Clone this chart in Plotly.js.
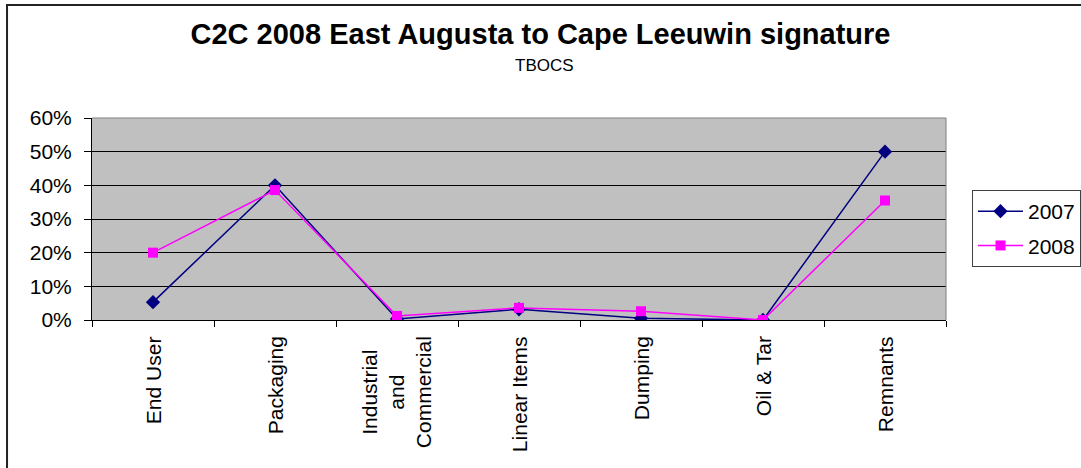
<!DOCTYPE html>
<html>
<head>
<meta charset="utf-8">
<script src="https://cdn.plot.ly/plotly-3.0.1.min.js"></script>
<style>
html,body{margin:0;padding:0;background:#fff;}
#chart{width:1081px;height:468px;}
</style>
</head>
<body>
<div id="chart"></div>
<script>
const categories = ['End User', 'Packaging', 'Industrial<br>and<br>Commercial', 'Linear Items', 'Dumping', 'Oil & Tar', 'Remnants'];
const values2007 = [0.053, 0.40, 0.003, 0.032, 0.005, 0.0, 0.50];
const values2008 = [0.20, 0.386, 0.012, 0.036, 0.026, 0.0, 0.355];
const seriesNames = ['2007', '2008'];
const yTicks = [0, 0.1, 0.2, 0.3, 0.4, 0.5, 0.6];

const FONT = 'Liberation Sans, Arial, sans-serif';

const traces = [
  {
    x: categories, y: values2007, name: seriesNames[0], type: 'scatter', mode: 'lines+markers',
    legendgroup: 'a',
    line: {color: '#000080', width: 1.5},
    marker: {symbol: 'diamond', size: 11, color: '#000080'}
  },
  {
    x: categories, y: values2008, name: seriesNames[1], type: 'scatter', mode: 'lines+markers',
    legendgroup: 'b',
    line: {color: '#ff00ff', width: 1.5},
    marker: {symbol: 'square', size: 10, color: '#ff00ff'}
  }
];

// category labels as annotations so multi-line labels stay centred like the original
const catAnnotations = categories.map(c => ({
  text: c, x: c, xref: 'x', yref: 'paper', y: -0.07,
  xanchor: 'center', yanchor: 'top', textangle: -90, align: 'center',
  showarrow: false, font: {family: FONT, size: 21, color: '#000'}
}));

const layout = {
  width: 1081, height: 468,
  margin: {l: 92, r: 135, t: 118, b: 148, autoexpand: false},
  paper_bgcolor: '#ffffff',
  plot_bgcolor: '#c0c0c0',
  font: {family: FONT, size: 21, color: '#000'},
  title: {
    text: '<b>C2C 2008 East Augusta to Cape Leeuwin signature</b>',
    font: {family: FONT, size: 29, color: '#000'},
    xref: 'container', x: 0.5, xanchor: 'center',
    yref: 'container', y: 0.9274, yanchor: 'middle'
  },
  annotations: [{
    text: 'TBOCS', xref: 'paper', yref: 'paper', x: 0.5304, y: 1.262,
    xanchor: 'center', yanchor: 'middle', showarrow: false,
    font: {family: FONT, size: 17, color: '#000'}
  }].concat(catAnnotations),
  xaxis: {
    type: 'category',
    range: [-0.5, 6.5],
    showline: true, linecolor: '#000', linewidth: 1,
    ticks: 'outside', ticklen: 6, tickcolor: '#000', tickwidth: 1,
    tickson: 'boundaries',
    showticklabels: false,
    showgrid: false, zeroline: false
  },
  yaxis: {
    range: [0, 0.6],
    tickvals: yTicks,
    tickformat: '.0%',
    showline: true, linecolor: '#000', linewidth: 1,
    ticks: 'outside', ticklen: 7, tickcolor: '#000', tickwidth: 1,
    ticklabelstandoff: 8,
    showgrid: true, gridcolor: '#000', gridwidth: 1,
    zeroline: false,
    tickfont: {family: FONT, size: 21, color: '#000'}
  },
  showlegend: true,
  legend: {
    x: (972 - 92) / 854, xanchor: 'left', y: (320 - 190) / 202, yanchor: 'top',
    bgcolor: '#ffffff', bordercolor: '#404040', borderwidth: 1,
    font: {family: FONT, size: 21, color: '#000'},
    itemwidth: 45,
    traceorder: 'grouped', tracegroupgap: 4
  },
  shapes: [
    {type: 'line', xref: 'paper', yref: 'paper', x0: 1, x1: 1, y0: 0, y1: 1, line: {color: '#808080', width: 1}},
    {type: 'line', xref: 'paper', yref: 'paper', x0: 0, x1: 1, y0: 1, y1: 1, line: {color: '#808080', width: 1}},
    {type: 'rect', xref: 'paper', yref: 'paper', x0: -0.0995, x1: 1.1686, y0: 1.5594, y1: -0.792, line: {color: '#222', width: 2}, layer: 'below'}
  ]
};

Plotly.newPlot('chart', traces, layout, {displayModeBar: false, staticPlot: true});
</script>
</body>
</html>
